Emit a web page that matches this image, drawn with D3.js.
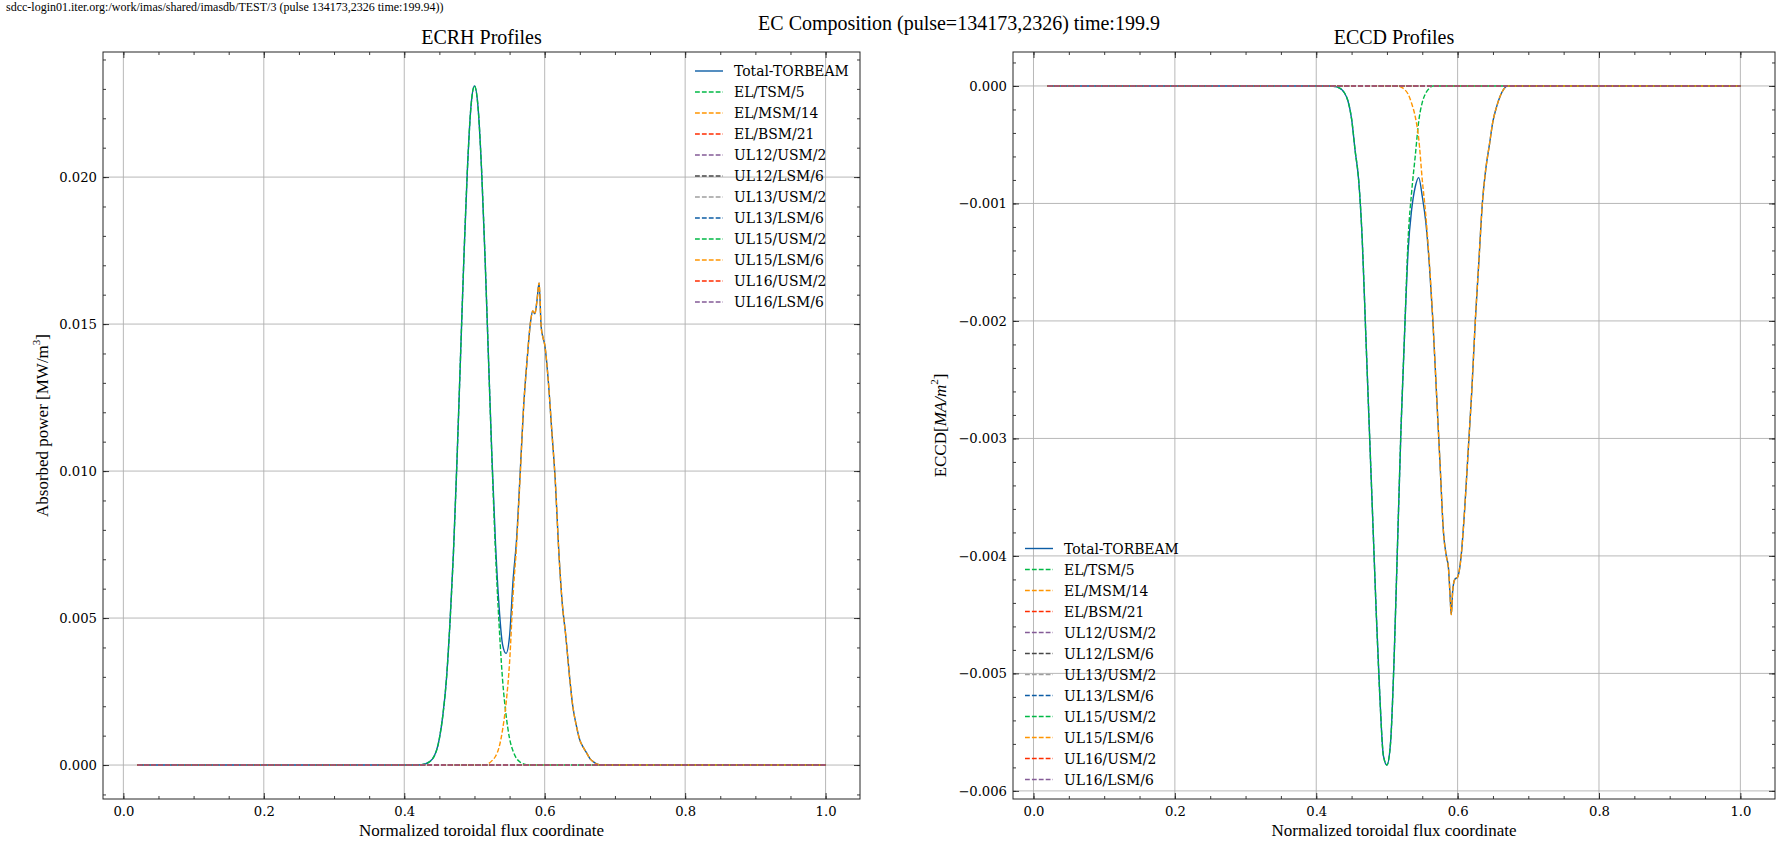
<!DOCTYPE html>
<html>
<head>
<meta charset="utf-8">
<script src="https://cdnjs.cloudflare.com/ajax/libs/d3/7.8.5/d3.min.js"></script>
<style>
  body { margin: 0; background: #fff; }
  svg { display: block; }
</style>
</head>
<body>
<div id="chart"></div>
<script>
// legend order and colours (science style cycle)
const seriesNames = ["Total-TORBEAM", "EL/TSM/5", "EL/MSM/14", "EL/BSM/21", "UL12/USM/2", "UL12/LSM/6",
    "UL13/USM/2", "UL13/LSM/6", "UL15/USM/2", "UL15/LSM/6", "UL16/USM/2", "UL16/LSM/6"];
const seriesColors = ["#0C5DA5", "#00B945", "#FF9500", "#FF2C00", "#845B97", "#474747",
    "#9e9e9e", "#0C5DA5", "#00B945", "#FF9500", "#FF2C00", "#845B97"];

// launchers that deliver nothing
const flatZero = [[0.02, 0], [1.0, 0]];

// ECRH absorbed power [MW/m3] vs rho
const ecrhTotal = [[0.02, 0], [0.42, 0], [0.43, 0.00004], [0.44, 0.0002], [0.45, 0.0009], [0.455, 0.0017],
    [0.46, 0.0029], [0.465, 0.0048], [0.47, 0.0072], [0.475, 0.0103], [0.48, 0.0138], [0.485, 0.0173],
    [0.49, 0.0203], [0.495, 0.0224], [0.5, 0.0231], [0.505, 0.0224], [0.51, 0.0203], [0.515, 0.0173],
    [0.52, 0.0138], [0.525, 0.0104], [0.53, 0.0075], [0.535, 0.0054], [0.54, 0.0041], [0.545, 0.0038],
    [0.55, 0.0044], [0.555, 0.0063], [0.56, 0.0077], [0.565, 0.0099], [0.57, 0.0122], [0.575, 0.0138],
    [0.58, 0.0151], [0.583, 0.01545], [0.586, 0.01535], [0.589, 0.0158], [0.592, 0.0164], [0.595, 0.0149],
    [0.598, 0.0145], [0.6, 0.0143], [0.605, 0.0131], [0.61, 0.0114], [0.615, 0.0097], [0.62, 0.0073],
    [0.625, 0.0055], [0.63, 0.0044], [0.635, 0.0031], [0.64, 0.002], [0.645, 0.00135], [0.65, 0.00085],
    [0.655, 0.0006], [0.66, 0.0004], [0.665, 0.0002], [0.67, 0.0001], [0.675, 0.00003], [0.68, 0], [1.0, 0]];
const ecrhTsm = [[0.02, 0], [0.42, 0], [0.43, 0.00004], [0.44, 0.0002], [0.45, 0.0009], [0.455, 0.0017],
    [0.46, 0.0029], [0.465, 0.0048], [0.47, 0.0072], [0.475, 0.0103], [0.48, 0.0138], [0.485, 0.0173],
    [0.49, 0.0203], [0.495, 0.0224], [0.5, 0.0231], [0.505, 0.0224], [0.51, 0.0203], [0.515, 0.0173],
    [0.52, 0.0138], [0.525, 0.0103], [0.53, 0.0072], [0.535, 0.0048], [0.54, 0.0029], [0.545, 0.0017],
    [0.55, 0.0009], [0.555, 0.00047], [0.56, 0.00022], [0.565, 0.0001], [0.57, 0.00004], [0.575, 0], [1.0, 0]];
const ecrhMsm = [[0.02, 0], [0.515, 0], [0.52, 0.00005], [0.525, 0.00015], [0.53, 0.0003], [0.535, 0.0006],
    [0.54, 0.0012], [0.545, 0.0021], [0.55, 0.0035], [0.555, 0.0058], [0.56, 0.0075], [0.565, 0.0098],
    [0.57, 0.0122], [0.575, 0.0138], [0.58, 0.0151], [0.583, 0.01545], [0.586, 0.01535], [0.589, 0.0158],
    [0.592, 0.0164], [0.595, 0.0149], [0.598, 0.0145], [0.6, 0.0143], [0.605, 0.0131], [0.61, 0.0114],
    [0.615, 0.0097], [0.62, 0.0073], [0.625, 0.0055], [0.63, 0.0044], [0.635, 0.0031], [0.64, 0.002],
    [0.645, 0.00135], [0.65, 0.00085], [0.655, 0.0006], [0.66, 0.0004], [0.665, 0.0002], [0.67, 0.0001],
    [0.675, 0.00003], [0.68, 0], [1.0, 0]];

// ECCD current density [MA/m2] vs rho
const eccdTotal = [[0.02, 0], [0.42, 0], [0.43, -0.00001], [0.44, -0.00006], [0.445, -0.00013], [0.45, -0.00028],
    [0.455, -0.00055], [0.46, -0.0008], [0.465, -0.0013], [0.47, -0.0021], [0.475, -0.0029], [0.48, -0.0037],
    [0.485, -0.0045], [0.49, -0.0052], [0.495, -0.0057], [0.5, -0.00578], [0.505, -0.0056], [0.51, -0.0049],
    [0.515, -0.0039], [0.52, -0.0029], [0.525, -0.0021], [0.53, -0.0014], [0.535, -0.00105], [0.54, -0.00086],
    [0.545, -0.00078], [0.55, -0.00094], [0.555, -0.00116], [0.56, -0.00152], [0.565, -0.002], [0.57, -0.0026],
    [0.575, -0.0032], [0.58, -0.0038], [0.584, -0.004], [0.587, -0.0041], [0.589, -0.0043], [0.591, -0.0045],
    [0.593, -0.0043], [0.596, -0.0042], [0.6, -0.00418], [0.605, -0.004], [0.61, -0.0036], [0.615, -0.0031],
    [0.62, -0.0026], [0.625, -0.002], [0.63, -0.0015], [0.635, -0.001], [0.64, -0.0007], [0.645, -0.0005],
    [0.65, -0.0003], [0.655, -0.00018], [0.66, -0.00009], [0.665, -0.00003], [0.67, 0], [1.0, 0]];
const eccdTsm = [[0.02, 0], [0.42, 0], [0.43, -0.00001], [0.44, -0.00006], [0.445, -0.00013], [0.45, -0.00028],
    [0.455, -0.00055], [0.46, -0.0008], [0.465, -0.0013], [0.47, -0.0021], [0.475, -0.0029], [0.48, -0.0037],
    [0.485, -0.0045], [0.49, -0.0052], [0.495, -0.0057], [0.5, -0.00578], [0.505, -0.0056], [0.51, -0.0049],
    [0.515, -0.0039], [0.52, -0.0029], [0.525, -0.0021], [0.53, -0.0013], [0.535, -0.0009], [0.54, -0.0006],
    [0.545, -0.0003], [0.55, -0.00014], [0.555, -0.00006], [0.56, -0.00002], [0.565, 0], [1.0, 0]];
const eccdMsm = [[0.02, 0], [0.515, 0], [0.52, -0.00001], [0.525, -0.00003], [0.53, -0.00007], [0.535, -0.00015],
    [0.54, -0.00026], [0.545, -0.00045], [0.55, -0.0008], [0.555, -0.0011], [0.56, -0.0015], [0.565, -0.002],
    [0.57, -0.0026], [0.575, -0.0032], [0.58, -0.0038], [0.584, -0.004], [0.587, -0.0041], [0.589, -0.0043],
    [0.591, -0.0045], [0.593, -0.0043], [0.596, -0.0042], [0.6, -0.00418], [0.605, -0.004], [0.61, -0.0036],
    [0.615, -0.0031], [0.62, -0.0026], [0.625, -0.002], [0.63, -0.0015], [0.635, -0.001], [0.64, -0.0007],
    [0.645, -0.0005], [0.65, -0.0003], [0.655, -0.00018], [0.66, -0.00009], [0.665, -0.00003], [0.67, 0], [1.0, 0]];

const xTicks = [0.0, 0.2, 0.4, 0.6, 0.8, 1.0];
const ecrhYTicks = [0.000, 0.005, 0.010, 0.015, 0.020];
const eccdYTicks = [0.000, -0.001, -0.002, -0.003, -0.004, -0.005, -0.006];

const W = 1776, H = 843;
const SERIF = "'Liberation Serif', 'Times New Roman', serif";
const TICKFONT = "'DejaVu Serif', serif";
const GRID = "#b0b0b0";
const SPINE = "#262626";

const svg = d3.select("#chart").append("svg")
    .attr("width", W).attr("height", H)
    .style("background", "#fff");

function padExtent(vals) {
    const [lo, hi] = d3.extent(vals);
    const m = (hi - lo) * 0.05;
    return [lo - m, hi + m];
}

function drawPanel(p) {
    const all = p.series.flat();
    const x = d3.scaleLinear().domain(padExtent(all.map(d => d[0]))).range([p.left, p.right]);
    const y = d3.scaleLinear().domain(padExtent(all.map(d => d[1]))).range([p.bottom, p.top]);
    const g = svg.append("g");

    // grid
    g.append("g").selectAll("line").data(p.xTicks).join("line")
        .attr("x1", d => x(d)).attr("x2", d => x(d)).attr("y1", p.top).attr("y2", p.bottom)
        .attr("stroke", GRID).attr("stroke-width", 0.9);
    g.append("g").selectAll("line").data(p.yTicks).join("line")
        .attr("x1", p.left).attr("x2", p.right).attr("y1", d => y(d)).attr("y2", d => y(d))
        .attr("stroke", GRID).attr("stroke-width", 0.9);

    // curves
    const line = d3.line().x(d => x(d[0])).y(d => y(d[1])).curve(d3.curveMonotoneX);
    g.append("g").selectAll("path").data(p.series).join("path")
        .attr("d", line)
        .attr("fill", "none")
        .attr("stroke", (d, i) => seriesColors[i])
        .attr("stroke-width", 1.4)
        .attr("stroke-dasharray", (d, i) => i === 0 ? null : "4.8,2.1");

    // ticks: inward, all four sides, major + minor
    const xMinor = d3.range(0, 1.0001, 0.05).filter(v => x.domain()[0] <= v && v <= x.domain()[1]);
    const yd = y.domain();
    const yMinor = d3.range(Math.ceil(yd[0] / p.yMinorStep) * p.yMinorStep, yd[1], p.yMinorStep);
    const styleAxis = sel => {
        sel.select(".domain").remove();
        sel.selectAll(".tick line").attr("stroke", SPINE).attr("stroke-width", 0.9);
        sel.selectAll(".tick text").attr("fill", "#000").style("font-family", TICKFONT).style("font-size", "13.2px");
    };
    g.append("g").attr("transform", `translate(0,${p.bottom})`)
        .call(d3.axisBottom(x).tickValues(p.xTicks).tickSize(-6).tickPadding(8).tickFormat(d3.format(".1f"))).call(styleAxis);
    g.append("g").attr("transform", `translate(0,${p.bottom})`)
        .call(d3.axisBottom(x).tickValues(xMinor).tickSize(-3).tickFormat("")).call(styleAxis);
    g.append("g").attr("transform", `translate(0,${p.top})`)
        .call(d3.axisTop(x).tickValues(p.xTicks).tickSize(-6).tickFormat("")).call(styleAxis);
    g.append("g").attr("transform", `translate(0,${p.top})`)
        .call(d3.axisTop(x).tickValues(xMinor).tickSize(-3).tickFormat("")).call(styleAxis);
    g.append("g").attr("transform", `translate(${p.left},0)`)
        .call(d3.axisLeft(y).tickValues(p.yTicks).tickSize(-6).tickPadding(6).tickFormat(d3.format(".3f"))).call(styleAxis);
    g.append("g").attr("transform", `translate(${p.left},0)`)
        .call(d3.axisLeft(y).tickValues(yMinor).tickSize(-3).tickFormat("")).call(styleAxis);
    g.append("g").attr("transform", `translate(${p.right},0)`)
        .call(d3.axisRight(y).tickValues(p.yTicks).tickSize(-6).tickFormat("")).call(styleAxis);
    g.append("g").attr("transform", `translate(${p.right},0)`)
        .call(d3.axisRight(y).tickValues(yMinor).tickSize(-3).tickFormat("")).call(styleAxis);

    g.append("rect")
        .attr("x", p.left).attr("y", p.top)
        .attr("width", p.right - p.left).attr("height", p.bottom - p.top)
        .attr("fill", "none").attr("stroke", SPINE).attr("stroke-width", 1);

    // titles and labels
    const cx = (p.left + p.right) / 2;
    g.append("text").attr("x", cx).attr("y", p.top - 8)
        .attr("text-anchor", "middle").style("font-family", SERIF).style("font-size", "20px")
        .text(p.title);
    g.append("text").attr("x", cx).attr("y", p.bottom + 37)
        .attr("text-anchor", "middle").style("font-family", SERIF).style("font-size", "17px")
        .text("Normalized toroidal flux coordinate");
    const yl = g.append("text")
        .attr("transform", `translate(${p.ylabelX},${(p.top + p.bottom) / 2}) rotate(-90)`)
        .attr("text-anchor", "middle").attr("dominant-baseline", "central")
        .style("font-family", SERIF).style("font-size", "17px");
    p.ylabel(yl);

    // legend, no frame
    const leg = g.append("g").selectAll("g").data(seriesNames).join("g")
        .attr("transform", (d, i) => `translate(${p.legendX},${p.legendY + i * 21})`);
    leg.append("line")
        .attr("x1", 0).attr("x2", 28).attr("y1", 0).attr("y2", 0)
        .attr("stroke", (d, i) => seriesColors[i]).attr("stroke-width", 1.4)
        .attr("stroke-dasharray", (d, i) => i === 0 ? null : "4.8,2.1");
    leg.append("text")
        .attr("x", 39).attr("y", 0).attr("dominant-baseline", "central")
        .style("font-family", TICKFONT).style("font-size", "13.9px")
        .text(d => d);
}

drawPanel({
    left: 103, right: 860, top: 52, bottom: 799,
    title: "ECRH Profiles",
    series: [ecrhTotal, ecrhTsm, ecrhMsm, flatZero, flatZero, flatZero, flatZero, flatZero, flatZero, flatZero, flatZero, flatZero],
    xTicks: xTicks, yTicks: ecrhYTicks, yMinorStep: 0.001,
    ylabelX: 42,
    ylabel: t => {
        t.append("tspan").text("Absorbed power [MW/m");
        t.append("tspan").attr("baseline-shift", "super").style("font-size", "11px").text("3");
        t.append("tspan").text("]");
    },
    legendX: 695, legendY: 71
});

drawPanel({
    left: 1013, right: 1775, top: 52, bottom: 799,
    title: "ECCD Profiles",
    series: [eccdTotal, eccdTsm, eccdMsm, flatZero, flatZero, flatZero, flatZero, flatZero, flatZero, flatZero, flatZero, flatZero],
    xTicks: xTicks, yTicks: eccdYTicks, yMinorStep: 0.0002,
    ylabelX: 940,
    ylabel: t => {
        t.append("tspan").text("ECCD[");
        t.append("tspan").style("font-style", "italic").text("MA/m");
        t.append("tspan").attr("baseline-shift", "super").style("font-size", "11px").text("2");
        t.append("tspan").text("]");
    },
    legendX: 1025, legendY: 548.5
});

svg.append("text").attr("x", 959).attr("y", 30)
    .attr("text-anchor", "middle").style("font-family", SERIF).style("font-size", "20px")
    .text("EC Composition (pulse=134173,2326) time:199.9");
svg.append("text").attr("x", 6).attr("y", 11)
    .style("font-family", SERIF).style("font-size", "12px")
    .text("sdcc-login01.iter.org:/work/imas/shared/imasdb/TEST/3 (pulse 134173,2326 time:199.94))");
</script>
</body>
</html>
